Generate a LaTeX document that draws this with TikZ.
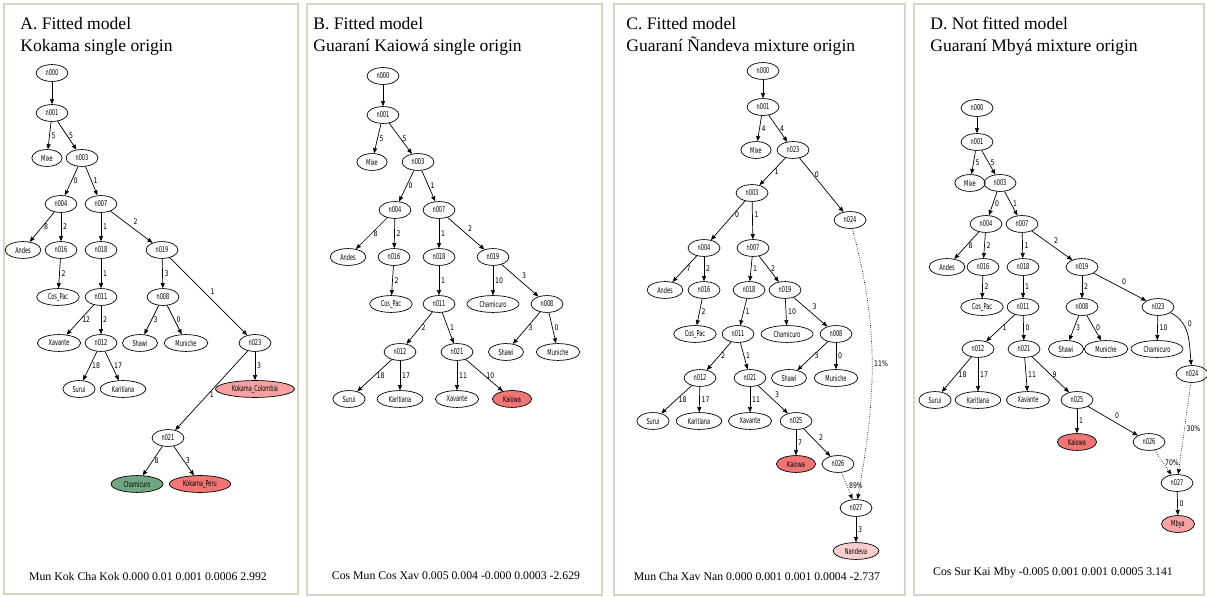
\documentclass[tikz,border=0pt]{standalone}
\usepackage{fontspec}
\setmainfont{Liberation Serif}
\newfontfamily\gvfont[FakeStretch=0.62]{DejaVu Sans}
\newfontfamily\gvlblfont[FakeStretch=0.8]{DejaVu Sans}
\usepackage{tikz}
\usetikzlibrary{
    shapes.geometric,
    arrows.meta,
    positioning
}
\definecolor{panelline}{RGB}{214,214,196}
\definecolor{redtip}{RGB}{240,118,118}
\definecolor{pinktip}{RGB}{247,162,162}
\definecolor{palepink}{RGB}{251,206,206}
\definecolor{greentip}{RGB}{114,166,128}

\begin{document}
\begin{tikzpicture}[x=0.02cm,y=-0.02cm,
  >={Stealth[length=3pt,width=2.4pt,inset=0.3pt]},
  nd/.style={ellipse,draw,line width=0.4pt,inner xsep=2.8pt,inner ysep=0.8pt,
    minimum width=16.5pt,minimum height=9.6pt,font=\gvfont\fontsize{4.6}{5}\selectfont},
  lbl/.style={inner sep=1pt,font=\gvlblfont\fontsize{4.4}{5}\selectfont},
  mix/.style={->,line width=0.4pt,dash pattern=on 0.4pt off 0.9pt},
  panel/.style={draw=panelline,line width=0.8pt},
  ttl/.style={anchor=base west,inner sep=0pt,font=\fontsize{10}{12}\selectfont},
  foot/.style={inner sep=0pt,font=\fontsize{6.7}{8}\selectfont}]

\useasboundingbox (0,0) rectangle (1207,597);

%====================================================
% A. Kokama single origin
%====================================================

\draw[panel] (4,4) rectangle (298,594);
\node[ttl] (a-t1) at (20,30) {A. Fitted model};
\node[ttl] (a-t2) at (20,52) {Kokama single origin};

\node[nd] (a-n000) at (52,73) {n000};
\node[nd] (a-n001) at (52,113) {n001};
\node[nd] (a-Mixe) at (47,158) {Mixe};
\node[nd] (a-n003) at (82,158) {n003};
\node[nd] (a-n004) at (61,204) {n004};
\node[nd] (a-n007) at (101,204) {n007};
\node[nd] (a-Andes) at (23,250) {Andes};
\node[nd] (a-n016) at (61,250) {n016};
\node[nd] (a-n018) at (101,250) {n018};
\node[nd] (a-n019) at (162,250) {n019};
\node[nd] (a-CosPac) at (58,297) {Cos\_Pac};
\node[nd] (a-n011) at (101,297) {n011};
\node[nd] (a-n008) at (163,297) {n008};
\node[nd] (a-Xavante) at (59,343) {Xavante};
\node[nd] (a-n012) at (101,343) {n012};
\node[nd] (a-Shawi) at (140,343) {Shawi};
\node[nd] (a-Muniche) at (186,343) {Muniche};
\node[nd] (a-n023) at (255,343) {n023};
\node[nd] (a-Surui) at (79,389) {Surui};
\node[nd] (a-Karitiana) at (123,389) {Karitiana};
\node[nd,fill=pinktip] (a-KokCol) at (255,389) {Kokama\_Colombia};
\node[nd] (a-n021) at (168,438) {n021};
\node[nd,fill=greentip] (a-Chamicuro) at (137,484) {Chamicuro};
\node[nd,fill=redtip] (a-KokPeru) at (200,484) {Kokama\_Peru};

\draw[->] (a-n000) -- (a-n001);
\draw[->] (a-n001) -- node[lbl,right]{5} (a-Mixe);
\draw[->] (a-n001) -- node[lbl,right]{5} (a-n003);
\draw[->] (a-n003) -- node[lbl,right]{0} (a-n004);
\draw[->] (a-n003) -- node[lbl,right]{1} (a-n007);
\draw[->] (a-n004) -- node[lbl,right]{8} (a-Andes);
\draw[->] (a-n004) -- node[lbl,right]{2} (a-n016);
\draw[->] (a-n007) -- node[lbl,right]{1} (a-n018);
\draw[->] (a-n007) -- node[lbl,above right]{2} (a-n019);
\draw[->] (a-n016) -- node[lbl,right]{2} (a-CosPac);
\draw[->] (a-n018) -- node[lbl,right]{1} (a-n011);
\draw[->] (a-n019) -- node[lbl,right]{3} (a-n008);
\draw[->] (a-n019) -- node[lbl,above right]{1} (a-n023);
\draw[->] (a-n011) -- node[lbl,right]{12} (a-Xavante);
\draw[->] (a-n011) -- node[lbl,right]{2} (a-n012);
\draw[->] (a-n008) -- node[lbl,right]{3} (a-Shawi);
\draw[->] (a-n008) -- node[lbl,right]{0} (a-Muniche);
\draw[->] (a-n023) -- node[lbl,right]{3} (a-KokCol);
\draw[->] (a-n023) -- node[lbl,right,pos=0.55]{1} (a-n021);
\draw[->] (a-n012) -- node[lbl,right]{18} (a-Surui);
\draw[->] (a-n012) -- node[lbl,right]{17} (a-Karitiana);
\draw[->] (a-n021) -- node[lbl,right]{8} (a-Chamicuro);
\draw[->] (a-n021) -- node[lbl,right]{3} (a-KokPeru);

\node[foot] (a-foot) at (148,576) {Mun Kok Cha Kok 0.000 0.01 0.001 0.0006 2.992};

%====================================================
% B. Guarani Kaiowa single origin
%====================================================

\draw[panel] (307,4) rectangle (602,595);
\node[ttl] (b-t1) at (313,30) {B. Fitted model};
\node[ttl] (b-t2) at (313,52) {Guaraní Kaiowá single origin};

\node[nd] (b-n000) at (383,76) {n000};
\node[nd] (b-n001) at (383,115) {n001};
\node[nd] (b-Mixe) at (372,162) {Mixe};
\node[nd] (b-n003) at (418,162) {n003};
\node[nd] (b-n004) at (395,210) {n004};
\node[nd] (b-n007) at (439,210) {n007};
\node[nd] (b-Andes) at (348,257) {Andes};
\node[nd] (b-n016) at (394,257) {n016};
\node[nd] (b-n018) at (439,257) {n018};
\node[nd] (b-n019) at (493,257) {n019};
\node[nd] (b-CosPac) at (391,304) {Cos\_Pac};
\node[nd] (b-n011) at (439,304) {n011};
\node[nd] (b-Chamicuro) at (493,304) {Chamicuro};
\node[nd] (b-n008) at (547,304) {n008};
\node[nd] (b-n012) at (400,352) {n012};
\node[nd] (b-n021) at (457,352) {n021};
\node[nd] (b-Shawi) at (506,352) {Shawi};
\node[nd] (b-Muniche) at (558,352) {Muniche};
\node[nd] (b-Surui) at (349,399) {Surui};
\node[nd] (b-Karitiana) at (400,399) {Karitiana};
\node[nd] (b-Xavante) at (457,399) {Xavante};
\node[nd,fill=redtip] (b-Kaiowa) at (512,399) {Kaiowa};

\draw[->] (b-n000) -- (b-n001);
\draw[->] (b-n001) -- node[lbl,right]{5} (b-Mixe);
\draw[->] (b-n001) -- node[lbl,right]{5} (b-n003);
\draw[->] (b-n003) -- node[lbl,right]{0} (b-n004);
\draw[->] (b-n003) -- node[lbl,right]{1} (b-n007);
\draw[->] (b-n004) -- node[lbl,right]{8} (b-Andes);
\draw[->] (b-n004) -- node[lbl,right]{2} (b-n016);
\draw[->] (b-n007) -- node[lbl,right]{1} (b-n018);
\draw[->] (b-n007) -- node[lbl,above right]{2} (b-n019);
\draw[->] (b-n016) -- node[lbl,right]{2} (b-CosPac);
\draw[->] (b-n018) -- node[lbl,right]{1} (b-n011);
\draw[->] (b-n019) -- node[lbl,right]{10} (b-Chamicuro);
\draw[->] (b-n019) -- node[lbl,above right]{3} (b-n008);
\draw[->] (b-n011) -- node[lbl,right]{2} (b-n012);
\draw[->] (b-n011) -- node[lbl,right]{1} (b-n021);
\draw[->] (b-n008) -- node[lbl,right]{3} (b-Shawi);
\draw[->] (b-n008) -- node[lbl,right]{0} (b-Muniche);
\draw[->] (b-n012) -- node[lbl,right]{18} (b-Surui);
\draw[->] (b-n012) -- node[lbl,right]{17} (b-Karitiana);
\draw[->] (b-n021) -- node[lbl,right]{11} (b-Xavante);
\draw[->] (b-n021) -- node[lbl,right]{10} (b-Kaiowa);

\node[foot] (b-foot) at (456,576) {Cos Mun Cos Xav 0.005 0.004 -0.000 0.0003 -2.629};

%====================================================
% C. Guarani Nandeva mixture origin
%====================================================

\draw[panel] (614,4) rectangle (905,595);
\node[ttl] (c-t1) at (626,30) {C. Fitted model};
\node[ttl] (c-t2) at (626,52) {Guaraní Ñandeva mixture origin};

\node[nd] (c-n000) at (763,71) {n000};
\node[nd] (c-n001) at (763,107) {n001};
\node[nd] (c-Mixe) at (756,150) {Mixe};
\node[nd] (c-n023) at (793,150) {n023};
\node[nd] (c-n003) at (752,193) {n003};
\node[nd] (c-n024) at (850,220) {n024};
\node[nd] (c-n004) at (704,248) {n004};
\node[nd] (c-n007) at (753,248) {n007};
\node[nd] (c-Andes) at (665,290) {Andes};
\node[nd] (c-n016) at (704,290) {n016};
\node[nd] (c-n018) at (749,290) {n018};
\node[nd] (c-n019) at (785,290) {n019};
\node[nd] (c-CosPac) at (695,334) {Cos\_Pac};
\node[nd] (c-n011) at (738,334) {n011};
\node[nd] (c-Chamicuro) at (787,334) {Chamicuro};
\node[nd] (c-n008) at (836,334) {n008};
\node[nd] (c-n012) at (700,378) {n012};
\node[nd] (c-n021) at (750,378) {n021};
\node[nd] (c-Shawi) at (789,378) {Shawi};
\node[nd] (c-Muniche) at (836,378) {Muniche};
\node[nd] (c-Surui) at (653,421) {Surui};
\node[nd] (c-Karitiana) at (699,421) {Karitiana};
\node[nd] (c-Xavante) at (750,421) {Xavante};
\node[nd] (c-n025) at (796,421) {n025};
\node[nd,fill=redtip] (c-Kaiowa) at (796,464) {Kaiowa};
\node[nd] (c-n026) at (838,464) {n026};
\node[nd] (c-n027) at (856,508) {n027};
\node[nd,fill=palepink] (c-Nandeva) at (856,551) {Nandeva};

\draw[->] (c-n000) -- (c-n001);
\draw[->] (c-n001) -- node[lbl,right]{4} (c-Mixe);
\draw[->] (c-n001) -- node[lbl,right]{4} (c-n023);
\draw[->] (c-n023) -- node[lbl,right]{1} (c-n003);
\draw[->] (c-n023) -- node[lbl,right,pos=0.3]{0} (c-n024);
\draw[->] (c-n003) -- node[lbl,right,pos=0.35]{0} (c-n004);
\draw[->] (c-n003) -- node[lbl,right,pos=0.35]{1} (c-n007);
\draw[->] (c-n004) -- node[lbl,right]{7} (c-Andes);
\draw[->] (c-n004) -- node[lbl,right]{2} (c-n016);
\draw[->] (c-n007) -- node[lbl,right]{1} (c-n018);
\draw[->] (c-n007) -- node[lbl,right]{2} (c-n019);
\draw[->] (c-n016) -- node[lbl,right]{2} (c-CosPac);
\draw[->] (c-n018) -- node[lbl,right]{1} (c-n011);
\draw[->] (c-n019) -- node[lbl,right]{10} (c-Chamicuro);
\draw[->] (c-n019) -- node[lbl,above right]{3} (c-n008);
\draw[->] (c-n011) -- node[lbl,right]{2} (c-n012);
\draw[->] (c-n011) -- node[lbl,right]{1} (c-n021);
\draw[->] (c-n008) -- node[lbl,right]{3} (c-Shawi);
\draw[->] (c-n008) -- node[lbl,right]{0} (c-Muniche);
\draw[->] (c-n012) -- node[lbl,right]{18} (c-Surui);
\draw[->] (c-n012) -- node[lbl,right]{17} (c-Karitiana);
\draw[->] (c-n021) -- node[lbl,right]{11} (c-Xavante);
\draw[->] (c-n021) -- node[lbl,above right]{3} (c-n025);
\draw[->] (c-n025) -- node[lbl,right]{7} (c-Kaiowa);
\draw[->] (c-n025) -- node[lbl,above right]{2} (c-n026);
\draw[mix] (c-n026) -- node[lbl,right]{89\%} (c-n027);
\draw[mix] (c-n024) to[out=-75,in=80] node[lbl,right]{11\%} (c-n027);
\draw[->] (c-n027) -- node[lbl,right]{3} (c-Nandeva);

\node[foot] (c-foot) at (757,576) {Mun Cha Xav Nan 0.000 0.001 0.001 0.0004 -2.737};

%====================================================
% D. Guarani Mbya mixture origin
%====================================================

\draw[panel] (914,4) rectangle (1204,595);
\node[ttl] (d-t1) at (930,30) {D. Not fitted model};
\node[ttl] (d-t2) at (930,52) {Guaraní Mbyá mixture origin};

\node[nd] (d-n000) at (977,108) {n000};
\node[nd] (d-n001) at (977,142) {n001};
\node[nd] (d-Mixe) at (970,183) {Mixe};
\node[nd] (d-n003) at (1000,183) {n003};
\node[nd] (d-n004) at (986,224) {n004};
\node[nd] (d-n007) at (1022,224) {n007};
\node[nd] (d-Andes) at (947,267) {Andes};
\node[nd] (d-n016) at (983,267) {n016};
\node[nd] (d-n018) at (1023,267) {n018};
\node[nd] (d-n019) at (1082,267) {n019};
\node[nd] (d-CosPac) at (982,307) {Cos\_Pac};
\node[nd] (d-n011) at (1023,307) {n011};
\node[nd] (d-n008) at (1082,307) {n008};
\node[nd] (d-n023) at (1158,307) {n023};
\node[nd] (d-n012) at (978,349) {n012};
\node[nd] (d-n021) at (1024,349) {n021};
\node[nd] (d-Shawi) at (1066,349) {Shawi};
\node[nd] (d-Muniche) at (1106,349) {Muniche};
\node[nd] (d-Chamicuro) at (1157,349) {Chamicuro};
\node[nd] (d-n024) at (1192,374) {n024};
\node[nd] (d-Surui) at (935,400) {Surui};
\node[nd] (d-Karitiana) at (978,400) {Karitiana};
\node[nd] (d-Xavante) at (1028,400) {Xavante};
\node[nd] (d-n025) at (1077,400) {n025};
\node[nd,fill=redtip] (d-Kaiowa) at (1077,442) {Kaiowa};
\node[nd] (d-n026) at (1149,442) {n026};
\node[nd] (d-n027) at (1177,483) {n027};
\node[nd,fill=pinktip] (d-Mbya) at (1178,524) {Mbya};

\draw[->] (d-n000) -- (d-n001);
\draw[->] (d-n001) -- node[lbl,right]{5} (d-Mixe);
\draw[->] (d-n001) -- node[lbl,right]{5} (d-n003);
\draw[->] (d-n003) -- node[lbl,right]{0} (d-n004);
\draw[->] (d-n003) -- node[lbl,right]{1} (d-n007);
\draw[->] (d-n004) -- node[lbl,right]{8} (d-Andes);
\draw[->] (d-n004) -- node[lbl,right]{2} (d-n016);
\draw[->] (d-n007) -- node[lbl,right]{1} (d-n018);
\draw[->] (d-n007) -- node[lbl,above right]{2} (d-n019);
\draw[->] (d-n016) -- node[lbl,right]{2} (d-CosPac);
\draw[->] (d-n018) -- node[lbl,right]{1} (d-n011);
\draw[->] (d-n019) -- node[lbl,right]{2} (d-n008);
\draw[->] (d-n019) -- node[lbl,above right]{0} (d-n023);
\draw[->] (d-n011) -- node[lbl,right]{1} (d-n012);
\draw[->] (d-n011) -- node[lbl,right]{0} (d-n021);
\draw[->] (d-n008) -- node[lbl,right]{3} (d-Shawi);
\draw[->] (d-n008) -- node[lbl,right]{0} (d-Muniche);
\draw[->] (d-n023) -- node[lbl,right]{10} (d-Chamicuro);
\draw[->] (d-n023) to[out=-25,in=95] node[lbl,above right,pos=0.4]{0} (d-n024);
\draw[->] (d-n012) -- node[lbl,right]{18} (d-Surui);
\draw[->] (d-n012) -- node[lbl,right]{17} (d-Karitiana);
\draw[->] (d-n021) -- node[lbl,right]{11} (d-Xavante);
\draw[->] (d-n021) -- node[lbl,right]{9} (d-n025);
\draw[->] (d-n025) -- node[lbl,right]{1} (d-Kaiowa);
\draw[->] (d-n025) -- node[lbl,above right]{0} (d-n026);
\draw[mix] (d-n026) -- node[lbl,right]{70\%} (d-n027);
\draw[mix] (d-n024) -- node[lbl,right]{30\%} (d-n027);
\draw[->] (d-n027) -- node[lbl,right]{0} (d-Mbya);

\node[foot] (d-foot) at (1053,573) {Cos Sur Kai Mby -0.005 0.001 0.001 0.0005 3.141};

\end{tikzpicture}
\end{document}
